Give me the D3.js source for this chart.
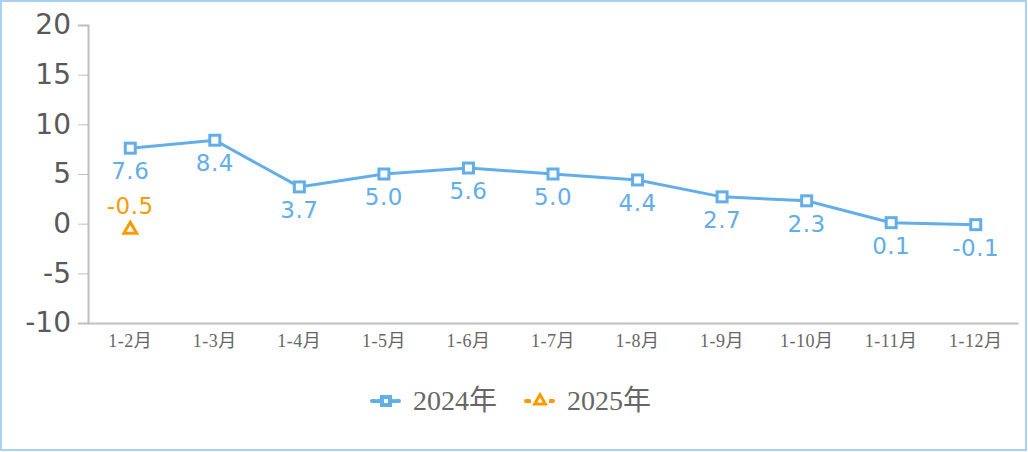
<!DOCTYPE html>
<html><head><meta charset="utf-8">
<script src="https://cdn.jsdelivr.net/npm/d3@7"></script>
<style>body{margin:0;background:#fff}svg{display:block}</style>
</head><body><svg id="c" width="1028" height="452"></svg>
<script>
const categories = ["1-2月","1-3月","1-4月","1-5月","1-6月","1-7月","1-8月","1-9月","1-10月","1-11月","1-12月"];
const series2024 = [7.6, 8.4, 3.7, 5.0, 5.6, 5.0, 4.4, 2.7, 2.3, 0.1, -0.1];
const series2025 = [-0.5];
const yTicks = [20, 15, 10, 5, 0, -5, -10];
const seriesNames = ["2024年", "2025年"];
const blue = "#62aeea", orange = "#ff9900";
const serifFont = "'Liberation Serif', 'DejaVu Serif', serif";
const cjkFont = "'Noto Sans CJK SC', sans-serif";

const svg = d3.select("#c");
svg.append("rect").attr("x",1).attr("y",1).attr("width",1025).attr("height",449)
  .attr("fill","none").attr("stroke","#a9d1f5").attr("stroke-width",2);

const x = d3.scaleBand().domain(categories).range([88, 1018]);
const y = d3.scaleLinear().domain([-10, 20]).range([323, 25]);
const cx = d => x(d) + x.bandwidth()/2;

// helper: split latin / CJK runs into tspans
function mixed(sel, str){
  const parts = str.match(/[\u3000-\u9fff]+|[^\u3000-\u9fff]+/g) || [];
  parts.forEach(p => {
    sel.append("tspan").attr("font-family", /[\u3000-\u9fff]/.test(p) ? cjkFont : serifFont).text(p);
  });
}

// y axis
const ya = svg.append("g").attr("transform","translate(88,0)")
  .call(d3.axisLeft(y).tickValues(yTicks).tickSize(10).tickPadding(7).tickFormat(d => String(d)));
ya.select(".domain").attr("stroke","#bfbfbf").attr("stroke-width",2);
ya.selectAll(".tick line").attr("stroke","#bfbfbf").attr("stroke-width",1);
ya.selectAll(".tick text").attr("fill","#595959").attr("font-family","'DejaVu Sans', Verdana, sans-serif").attr("font-size",28);

// x axis
const xa = svg.append("g").attr("transform","translate(0,323)")
  .call(d3.axisBottom(x).tickSize(0).tickPadding(11));
xa.select(".domain").attr("stroke","#bfbfbf").attr("stroke-width",2);
xa.selectAll(".tick text").attr("fill","#666").attr("font-size",18).attr("letter-spacing",0.5)
  .each(function(d){ const t = d3.select(this); t.text(null); mixed(t, d); });

// line 2024
const pts = categories.map((c,i)=>({c, v: series2024[i]}));
svg.append("path").datum(pts)
  .attr("d", d3.line().x(d=>cx(d.c)).y(d=>y(d.v)))
  .attr("fill","none").attr("stroke",blue).attr("stroke-width",3);
svg.selectAll(".m24").data(pts).enter().append("rect")
  .attr("x",d=>cx(d.c)-5).attr("y",d=>y(d.v)-5).attr("width",10).attr("height",10)
  .attr("fill","#fff").attr("stroke",blue).attr("stroke-width",3);
svg.selectAll(".l24").data(pts).enter().append("text")
  .attr("x",d=>cx(d.c)).attr("y",d=>y(d.v)+31)
  .attr("text-anchor","middle").attr("fill",blue)
  .attr("font-family","'DejaVu Sans', Verdana, sans-serif").attr("font-size",23).attr("letter-spacing",0.5)
  .text(d=>d.v.toFixed(1));

// 2025
const pts25 = series2025.map((v,i)=>({c: categories[i], v}));
const tri = d3.symbol().type(d3.symbolTriangle).size(70);
svg.selectAll(".m25").data(pts25).enter().append("path")
  .attr("transform",d=>`translate(${cx(d.c)},${y(d.v)+1})`).attr("d",tri)
  .attr("fill","#fff").attr("stroke",orange).attr("stroke-width",3);
svg.selectAll(".l25").data(pts25).enter().append("text")
  .attr("x",d=>cx(d.c)).attr("y",d=>y(d.v)-15)
  .attr("text-anchor","middle").attr("fill",orange)
  .attr("font-family","'DejaVu Sans', Verdana, sans-serif").attr("font-size",23).attr("letter-spacing",0.5)
  .text(d=>d.v.toFixed(1));

// legend
const lg = [{name:seriesNames[0], color:blue, x:372, type:"sq"},{name:seriesNames[1], color:orange, x:526, type:"tri"}];
lg.forEach(l=>{
  const g = svg.append("g");
  g.append("line").attr("x1",l.x).attr("x2",l.x+28).attr("y1",401).attr("y2",401)
    .attr("stroke",l.color).attr("stroke-width",4).attr("stroke-dasharray","3,3").attr("stroke-linecap","round");
  if(l.type==="sq"){
    g.append("rect").attr("x",l.x+8).attr("y",395).attr("width",12).attr("height",12).attr("fill",l.color);
    g.append("rect").attr("x",l.x+12).attr("y",399).attr("width",4).attr("height",4).attr("fill","#fff");
  } else {
    g.append("rect").attr("x",l.x+5).attr("y",396).attr("width",18).attr("height",10).attr("fill","#fff");
    g.append("path").attr("transform",`translate(${l.x+14},401)`).attr("d",d3.symbol().type(d3.symbolTriangle).size(50))
      .attr("fill","#fff").attr("stroke",l.color).attr("stroke-width",3);
  }
  const t = g.append("text").attr("x",l.x+41).attr("y",410).attr("fill","#666").attr("font-size",28);
  mixed(t, l.name);
});
</script></body></html>
